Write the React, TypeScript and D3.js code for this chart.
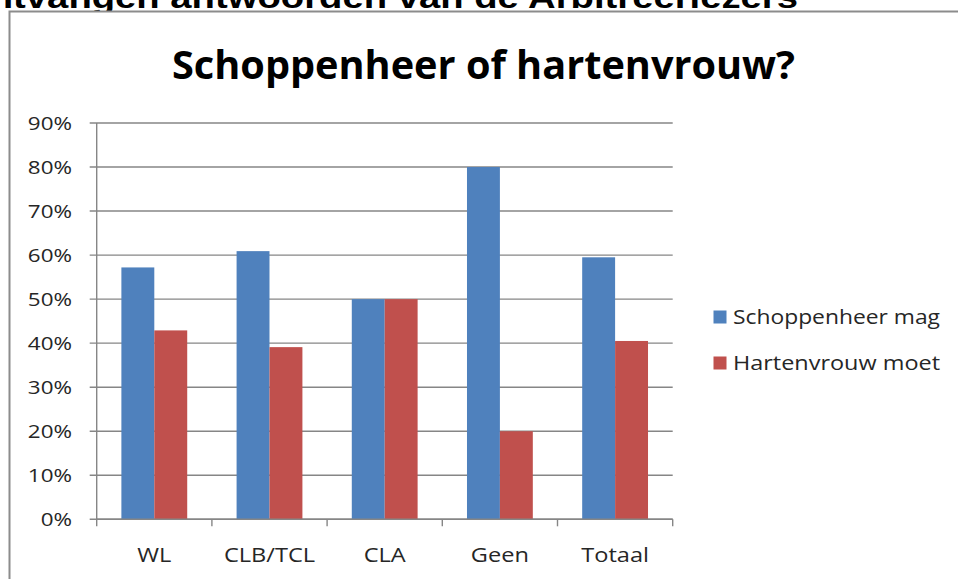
import React from "react";
import * as d3 from "d3";

const categories = ["WL", "CLB/TCL", "CLA", "Geen", "Totaal"];
const seriesNames = ["Schoppenheer mag", "Hartenvrouw moet"];
const schoppenheer = [0.572, 0.609, 0.5, 0.8, 0.595];
const hartenvrouw = [0.429, 0.391, 0.5, 0.2, 0.405];
const yTicks = [0, 0.1, 0.2, 0.3, 0.4, 0.5, 0.6, 0.7, 0.8, 0.9];
const colors = ["#4F81BD", "#C0504D"];

const W = 958;
const H = 579;
const plot = { left: 96.7, right: 672.7, top: 123, bottom: 519.3 };
const font = "'Open Sans', 'DejaVu Sans', sans-serif";
// the reference text looks a bit stretched sideways
const stretch = 1.18;

const App = () => {
  const x0 = d3
    .scaleBand()
    .domain(categories)
    .range([plot.left, plot.right])
    .padding(0);
  const barW = x0.bandwidth() / 3.5;
  const x1 = d3
    .scaleBand()
    .domain(seriesNames)
    .range([0, barW * 2]);
  const offset = (x0.bandwidth() - barW * 2) / 2;
  const y = d3.scaleLinear().domain([0, 0.9]).range([plot.bottom, plot.top]);
  const fmt = d3.format(".0%");

  const rows = categories.map((c, i) => ({
    cat: c,
    vals: [schoppenheer[i], hartenvrouw[i]],
  }));

  return (
    <svg
      width={W}
      height={H}
      style={{ position: "absolute", left: 0, top: 0, background: "#fff" }}
    >
      {/* page heading, cut off at the top */}
      <text
        x={-40}
        y={7.5}
        textLength={838}
        lengthAdjust="spacingAndGlyphs"
        fontFamily="'Liberation Sans', Arial, sans-serif"
        fontWeight="bold"
        fontSize={31}
        fill="#000"
      >
        Ontvangen antwoorden van de Arbitreerlezers
      </text>

      {/* chart frame */}
      <rect
        x={9.5}
        y={11.5}
        width={W + 20}
        height={H + 20}
        fill="#fff"
        stroke="#8c8c8c"
        strokeWidth={2}
      />

      <text
        x={483.5}
        y={79}
        textAnchor="middle"
        textLength={623}
        lengthAdjust="spacingAndGlyphs"
        fontFamily={font}
        fontWeight="bold"
        fontSize={40}
        fill="#000"
      >
        Schoppenheer of hartenvrouw?
      </text>

      {/* gridlines + y ticks */}
      {yTicks.map((t) => (
        <g key={t}>
          <line
            x1={plot.left - 7}
            x2={plot.right}
            y1={y(t)}
            y2={y(t)}
            stroke="#868686"
            strokeWidth={1.4}
          />
          <text
            transform={`translate(72,${y(t)}) scale(${stretch},1)`}
            dy="0.36em"
            textAnchor="end"
            fontFamily={font}
            fontSize={19}
            fill="#262626"
          >
            {fmt(t)}
          </text>
        </g>
      ))}

      {/* bars */}
      {rows.map((r) => (
        <g key={r.cat} transform={`translate(${x0(r.cat)! + offset},0)`}>
          {r.vals.map((v, j) => (
            <rect
              key={j}
              x={x1(seriesNames[j])}
              y={y(v)}
              width={x1.bandwidth()}
              height={y(0) - y(v)}
              fill={colors[j]}
            />
          ))}
        </g>
      ))}

      {/* axes */}
      <line
        x1={plot.left}
        x2={plot.left}
        y1={plot.top}
        y2={plot.bottom + 7}
        stroke="#868686"
        strokeWidth={1.4}
      />
      <line
        x1={plot.left}
        x2={plot.right}
        y1={plot.bottom}
        y2={plot.bottom}
        stroke="#868686"
        strokeWidth={1.4}
      />
      {categories.map((c) => (
        <line
          key={c}
          x1={x0(c)! + x0.bandwidth()}
          x2={x0(c)! + x0.bandwidth()}
          y1={plot.bottom}
          y2={plot.bottom + 7}
          stroke="#868686"
          strokeWidth={1.4}
        />
      ))}
      {categories.map((c) => (
        <text
          key={c}
          transform={`translate(${x0(c)! + x0.bandwidth() / 2},561.5) scale(${stretch},1)`}
          textAnchor="middle"
          fontFamily={font}
          fontSize={20}
          fill="#262626"
        >
          {c}
        </text>
      ))}

      {/* legend */}
      {seriesNames.map((s, i) => (
        <g key={s} transform={`translate(713.5,${310.5 + i * 46})`}>
          <rect width={13} height={13} fill={colors[i]} />
          <text
            x={19.5}
            y={13.5}
            textLength={207}
            lengthAdjust="spacingAndGlyphs"
            fontFamily={font}
            fontSize={20}
            fill="#262626"
          >
            {s}
          </text>
        </g>
      ))}
    </svg>
  );
};

export default App;
